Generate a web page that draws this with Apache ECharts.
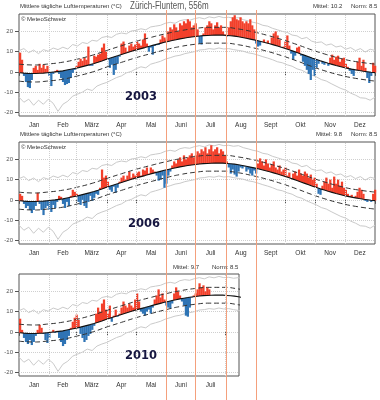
<!DOCTYPE html>
<html><head><meta charset="utf-8">
<script src="https://cdn.jsdelivr.net/npm/echarts@6/dist/echarts.min.js"></script>
<style>html,body{margin:0;padding:0;background:#fff}#c{width:380px;height:400px}</style>
</head><body><div id="c"></div>
<script>
// ---------- data ----------
const months = ['Jan','Feb','März','Apr','Mai','Juni','Juli','Aug','Sept','Okt','Nov','Dez'];
const monthStarts = [0,31,59,90,120,151,181,212,243,273,304,334,365];
const yTicks = [-20,-10,0,10,20];
const highlightDays = [151,181,212,243];
const headerText = 'Mittlere tägliche Lufttemperaturen (°C)';
const stationText = 'Zürich-Fluntern, 556m';
const copyrightText = '© MeteoSchweiz';
const years = ['2003','2006','2010'];
const yearMeans = ['10.2','9.8','9.7'];
const normMean = '8.5';

// climate norm, every 2nd day starting Jan 1
const norm = [-0.4,-0.5,-0.6,-0.7,-0.75,-0.8,-0.8,-0.8,-0.8,-0.75,-0.7,-0.65,-0.6,-0.5,-0.4,
-0.3,-0.2,-0.1,0,0.1,0.25,0.4,0.5,0.7,0.9,1.1,1.3,1.5,1.7,1.9,
2.1,2.35,2.6,2.85,3.1,3.35,3.6,3.9,4.15,4.45,4.75,5.05,5.4,5.75,6.1,
6.45,6.75,7.05,7.35,7.65,7.95,8.25,8.6,8.9,9.2,9.5,9.8,10.1,10.4,10.7,
11,11.25,11.5,11.75,12,12.3,12.55,12.8,13.1,13.35,13.6,13.85,14.1,14.35,14.6,
14.85,15.05,15.3,15.5,15.7,15.9,16.1,16.3,16.5,16.65,16.8,16.95,17.1,17.25,17.4,
17.5,17.6,17.7,17.8,17.9,17.95,18,18.05,18.1,18.15,18.15,18.2,18.2,18.2,18.15,
18.1,18,17.95,17.85,17.75,17.65,17.5,17.35,17.2,17,16.8,16.6,16.4,16.2,16,
15.8,15.6,15.4,15.15,14.9,14.65,14.4,14.15,13.9,13.65,13.35,13.05,12.75,12.45,12.15,
11.85,11.55,11.25,10.95,10.6,10.25,9.9,9.55,9.2,8.85,8.5,8.15,7.8,7.45,7.1,
6.75,6.45,6.1,5.8,5.45,5.15,4.85,4.55,4.25,3.95,3.7,3.4,3.15,2.9,2.65,
2.4,2.15,1.95,1.75,1.55,1.35,1.15,1,0.8,0.65,0.5,0.35,0.2,0.1,0,
-0.15,-0.25,-0.35];

// dashed band [day, value]
const upperBand = [[0,3.8],[15,3.4],[30,3.9],[45,4.8],[60,6.3],[75,8.2],[90,10.6],[105,12.9],[120,15.1],[135,17.0],[150,18.8],[165,20.3],[180,21.4],[195,22.0],[210,22.0],[225,21.2],[240,19.8],[255,18.0],[270,15.9],[285,13.5],[300,10.9],[315,8.6],[330,6.6],[345,5.1],[365,3.85]];
const lowerBand = [[0,-4.6],[15,-5.0],[30,-4.5],[45,-3.6],[60,-2.0],[75,-0.1],[90,2.4],[105,4.7],[120,7.0],[135,9.0],[150,10.9],[165,12.5],[180,13.6],[195,14.2],[210,14.2],[225,13.4],[240,11.9],[255,10.1],[270,7.9],[285,5.4],[300,2.7],[315,0.3],[330,-1.7],[345,-3.2],[365,-4.55]];

// grey extreme lines, every 5th day
const recordHigh = [10.5,11.5,9.5,10.8,9,11,10.2,11.8,11,12.2,11.3,13.5,
12.8,14.5,14,15.6,15.2,17,17.5,17,18.6,19.2,18.8,20.2,
20.5,21.3,20.8,22.2,22.6,23,24,24.5,24,25.3,25.8,25.5,
26.3,26.8,26.2,27.2,26.7,27.4,26.8,27,26.5,26.8,25.8,25.2,
24.5,24,23,22.6,21.5,20.8,20,19.5,18.2,17.8,16.4,17,
15.2,14.5,14.8,13.2,13.8,12.3,12.8,11.2,12,10.5,11.5,9.8,
11.2,10.6];
const recordLow = [-12.5,-15,-13.5,-16.5,-14,-16,-13.5,-15.5,-19.5,-16,-14.5,-12,
-11,-10,-8.5,-9.2,-7,-6,-5.2,-4,-2.8,-2,-0.5,0.2,
1.5,2.5,2,3.8,4.5,5.2,6.3,7,7.8,8.2,9,9.5,
10,10.8,11,11.5,11.2,11.8,11.3,11.5,11,10.6,10.2,9.4,
9,8.3,7.5,6.8,6,5,4.5,3.5,2.8,1.5,0.8,-0.5,
-1.5,-2.5,-3.8,-4.5,-5.8,-7,-8.2,-9,-10.5,-11.5,-12.8,-13,
-14,-12.5];

// daily mean temperature, every 2nd day
const t2003 = [9.5,6,-2,-5,-7.5,-8,-4,2,3,1,4,2,3.5,1.5,3,
-2,-7,-1,0.5,1,-1,-3,-5,-6.5,-6,-5.5,-3,-0.5,1,3,
5,6.5,5.5,7,6,12.5,3,3,8,7.5,8.5,9,12,14,10,
6,2,3.5,-1.5,1,4,7.5,14,15,12,10,13,14,12.5,13.5,
15,14,13,16,19,14,10,12,8.5,12.8,13.2,13.3,16,18,17,
16,20,22,21,23.5,22,20,24,23,25,24,26,25,22,23,
24,21,14,13.5,19,22,23,25,24,21,23,24.5,22,23,20,
18.5,17.5,22,25,27,28,26,25.5,27,25,24,25,24,26,23,
21,14,12.5,13,15,16,14.5,15.5,14,17,19,20,18,16,12,
12.5,15,18,13,9,6,8,12,12.5,8,5,3,1,-1,-4,
1,-2,2,4,5.5,4,3.5,4.5,3,7,8.5,6,7.5,8,5,
6.5,7,4,2.5,0.5,-1,-2,1,5,7,3,6,2,-3,-5.5,
-2,4.5,3];
const t2006 = [3,2,-2,-4,-3,-5,-6.5,-5,-3,3.5,-2,-5,-7.5,-4,-3,
-5,-6,-2.5,-4,-1,2,1.5,-2,-4,-1,-3,2,5,4,3,
-1,-2.5,0,-3,-4,-1,2,-0.5,1,3,2.5,6,15,11,12,
9,5,4,6.5,3.5,6,9,11,12,10,12,14,11,13,12,
13.5,14,12,15,14.5,16,13,16,15,14,12,9.5,10,12,6,
8,12,14,17,19,18,20,21,19,22,20,21,22,23,21,
22,24,23,25,24,26,23,25,27,24,25,26,23,25,24,
22,19,16,13,15,12.5,11.5,14,16,15.5,16.5,14,15,13,12,
14.5,13,18,20.5,19,17,20,18,16,17.5,19,16,15,17,14,
15,16,12,13.5,10.5,13,14,12,15,13,12,14,13,11,12.5,
10,11,8,3,2.5,7,9,11,8,10,6,11.5,8,10,7,
9,6,5,3,2,2.5,1,2,4,6,5,3,-0.5,-1,0,
-1,3,5];
const t2010 = [6.5,1,-3,-5,-6,-4,-6.5,-5,-2,1,3.5,2,-1,-4,-5.5,
-3,0,1,-0.5,0.5,-3,-5,-7,-6,-4,-2,2,5,7,8.5,
6,-1,-3,-5,-4,-2,-1,1,3,9,12,10,14,16,11,
9,13,5,8,11,7.5,9,12,15,13,12,14,13,12,16,
19,15,10,9,8,10,11,9,12,16,18,21,17,19,16,
13,12,11.5,14,19,22,20,18,15,13,8,7.5,12,17,18,
19,21,24,22,23,20,22,21];
const yearTemps = [t2003, t2006, t2010];

// ---------- layout / style ----------
const FONT = '"Liberation Sans", Arial, sans-serif';
const YEARFONT = '"DejaVu Sans", sans-serif';
const RED = '#f2402b', BLUE = '#2f74b5';
const layout = [
  {top:14, width:356, xmax:365},
  {top:142, width:356, xmax:365},
  {top:274, width:220, xmax:225.6}
];
const YMIN = -21.8, YMAX = 28.6;
const monthMids = monthStarts.slice(0,-1).map((s,i)=>(s+monthStarts[i+1])/2);

const grids = [], xAxes = [], yAxes = [], series = [];
layout.forEach((L, i) => {
  grids.push({left:19, top:L.top, width:L.width, height:102, show:true, borderColor:'#555', borderWidth:1, backgroundColor:'#fff'});
  xAxes.push({gridIndex:i, type:'value', min:0, max:L.xmax,
    axisLine:{show:false},
    axisTick:{show:true, customValues: monthStarts.filter(d=>d<=L.xmax), length:4, lineStyle:{color:'#555'}},
    axisLabel:{customValues: monthMids.filter(m=>m<L.xmax), fontSize:6.5, color:'#333', fontFamily:FONT, margin:6,
      formatter: v => months[monthMids.indexOf(v)] || ''},
    splitLine:{show:false}});
  yAxes.push({gridIndex:i, type:'value', min:YMIN, max:YMAX, splitNumber:5,
    axisLine:{show:false},
    axisTick:{show:true, customValues: yTicks, length:4, lineStyle:{color:'#555'}},
    axisLabel:{customValues: yTicks, fontSize:6, color:'#555', fontFamily:FONT, margin:6,
      formatter: v => yTicks.includes(v) ? String(v) : ''},
    splitLine:{show:true, lineStyle:{color:'#cfcfcf', type:'dotted', width:1}}});
  const temps = yearTemps[i];
  series.push({type:'line', xAxisIndex:i, yAxisIndex:i, z:1, showSymbol:false, silent:true,
    data: recordHigh.map((v,k)=>[k*5, v]), lineStyle:{color:'#cacaca', width:1},
    markLine:{silent:true, symbol:'none', label:{show:false},
      lineStyle:{color:'#cfcfcf', type:'dotted', width:1},
      data: monthStarts.filter(d=>d>0 && d<L.xmax).map(d=>({xAxis:d}))}});
  series.push({type:'line', xAxisIndex:i, yAxisIndex:i, z:1, showSymbol:false, silent:true,
    data: recordLow.map((v,k)=>[k*5, v]), lineStyle:{color:'#cacaca', width:1}});
  series.push({type:'custom', xAxisIndex:i, yAxisIndex:i, z:2, silent:true,
    data: temps.map((v,k)=>[k*2, v, norm[k]]),
    renderItem: (params, api) => {
      const d = api.value(0), v = api.value(1), n = api.value(2);
      const a = api.coord([d, v]), b = api.coord([d+2, n]);
      return {type:'rect', shape:{x:a[0], y:Math.min(a[1],b[1]), width:b[0]-a[0]+0.3, height:Math.abs(a[1]-b[1])},
        style:{fill: v>=n ? RED : BLUE}};
    }});
  [upperBand, lowerBand].forEach(band => series.push({type:'line', xAxisIndex:i, yAxisIndex:i, z:3, smooth:true,
    showSymbol:false, silent:true, data: band, lineStyle:{color:'#333', width:1, type:[5,3]}}));
  series.push({type:'line', xAxisIndex:i, yAxisIndex:i, z:4, showSymbol:false, silent:true,
    data: norm.map((v,k)=>[k*2+1, v]), lineStyle:{color:'#111', width:1.1}});
});
// full-height highlight lines
grids.push({left:19, top:10, width:356, height:390, show:false});
xAxes.push({gridIndex:3, type:'value', min:0, max:365, show:false});
yAxes.push({gridIndex:3, type:'value', min:0, max:1, show:false});
series.push({type:'line', xAxisIndex:3, yAxisIndex:3, z:20, showSymbol:false, silent:true,
  data:[[0,0]], lineStyle:{opacity:0},
  markLine:{silent:true, symbol:'none', label:{show:false},
    lineStyle:{color:'#f4a07c', width:1, type:'solid'},
    data: highlightDays.map(d=>({xAxis:d}))}});

const txt = (text, left, top, size, color, family, weight) => ({text, left, top, padding:0,
  textStyle:{fontSize:size, fontWeight:weight||'normal', color:color||'#333', fontFamily:family||FONT}});
const titles = [
  txt(headerText, 20, 3, 6),
  txt('Mittel: ' + yearMeans[0], 313, 3, 6),
  txt('Norm: ' + normMean, 351, 3, 6),
  txt(copyrightText, 21, 16, 6),
  txt(years[0], 125, 91, 11.5, '#161640', YEARFONT, 'bold'),
  txt(headerText, 20, 131, 6),
  txt('Mittel: ' + yearMeans[1], 316, 131, 6),
  txt('Norm: ' + normMean, 351, 131, 6),
  txt(copyrightText, 21, 144, 6),
  txt(years[1], 128, 218, 11.5, '#161640', YEARFONT, 'bold'),
  txt('Mittel: ' + yearMeans[2], 173, 264, 6),
  txt('Norm: ' + normMean, 212, 264, 6),
  txt(years[2], 125, 350, 11.5, '#161640', YEARFONT, 'bold')
];
// station name: slightly condensed like the original
const graphic = [{type:'text', x:130, y:1, scaleX:0.8, originX:0, z:30,
  style:{text:stationText, fontSize:10, fontFamily:FONT, fill:'#555'}}];

const chart = echarts.init(document.getElementById('c'), null, {renderer:'canvas'});
chart.setOption({animation:false, backgroundColor:'#fff', title:titles, graphic, grid:grids, xAxis:xAxes, yAxis:yAxes, series});
</script></body></html>
